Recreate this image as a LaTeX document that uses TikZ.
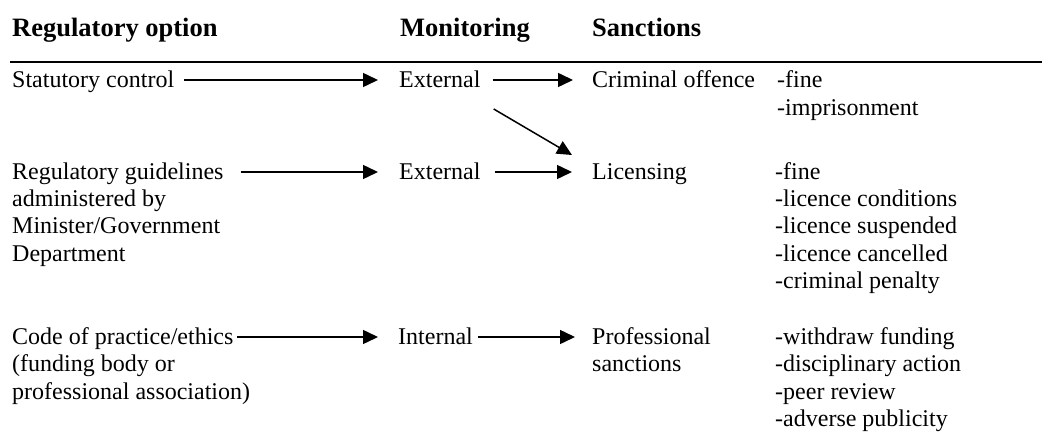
\documentclass[tikz,border=0pt]{standalone}
\usepackage{fontspec}
\setmainfont{Liberation Serif}
\usetikzlibrary{arrows.meta}

\newcommand{\rowtext}[1]{\begin{tabular}[t]{@{}l@{}}#1\end{tabular}}

\tikzstyle{head} = [anchor=base west, inner sep=0pt, font=\fontsize{26.5}{30}\selectfont\bfseries]
\tikzstyle{item} = [anchor=base west, inner sep=0pt, font=\fontsize{24}{27.5}\selectfont]
\tikzstyle{arrow} = [line width=1.5pt, -{Triangle[length=15pt,width=14pt]}]

\begin{document}
\begin{tikzpicture}[x=1pt, y=-1pt]
\useasboundingbox (0,0) rectangle (1042,441);
\node (hreg) [head] at (12,37) {Regulatory option};
\node (hmon) [head] at (400,37) {Monitoring};
\node (hsan) [head] at (592,37) {Sanctions};
\draw [line width=1.5pt] (10,62) -- (1042,62);
% statutory
\node (stat) [item] at (12,88) {Statutory control};
\node (ext1) [item] at (399,88) {External};
\node (crim) [item] at (592,88) {Criminal offence};
\node (pen1) [item] at (777,88) {\rowtext{-fine\\-imprisonment}};
% guidelines
\node (reg) [item] at (12,179) {\rowtext{Regulatory guidelines\\administered by\\Minister/Government\\Department}};
\node (ext2) [item] at (399,179) {External};
\node (lic) [item] at (592,179) {Licensing};
\node (pen2) [item] at (775,179) {\rowtext{-fine\\-licence conditions\\-licence suspended\\-licence cancelled\\-criminal penalty}};
% code of practice
\node (code) [item] at (12,344) {\rowtext{Code of practice/ethics\\(funding body or\\professional association)}};
\node (int) [item] at (398,344) {Internal};
\node (prof) [item] at (592,344) {\rowtext{Professional\\sanctions}};
\node (pen3) [item] at (775,344) {\rowtext{-withdraw funding\\-disciplinary action\\-peer review\\-adverse publicity}};
\draw [arrow] ([xshift=10pt,yshift=8pt]stat.base east) -- ([xshift=-21pt,yshift=8pt]ext1.base west);
\draw [arrow] ([xshift=12pt,yshift=8pt]ext1.base east) -- ([xshift=-19pt,yshift=8pt]crim.base west);
\draw [arrow] ([xshift=13pt,yshift=-21pt]ext1.base east) -- ([xshift=-20pt,yshift=24pt]lic.base west);
\draw [arrow] ([xshift=17pt,yshift=7pt]reg.base east) -- ([xshift=-21pt,yshift=7pt]ext2.base west);
\draw [arrow] ([xshift=14pt,yshift=7pt]ext2.base east) -- ([xshift=-20pt,yshift=7pt]lic.base west);
\draw [arrow] ([xshift=-13pt,yshift=7pt]code.base east) -- ([xshift=-20pt,yshift=7pt]int.base west);
\draw [arrow] ([xshift=5pt,yshift=7pt]int.base east) -- ([xshift=-17pt,yshift=7pt]prof.base west);
\end{tikzpicture}
\end{document}
